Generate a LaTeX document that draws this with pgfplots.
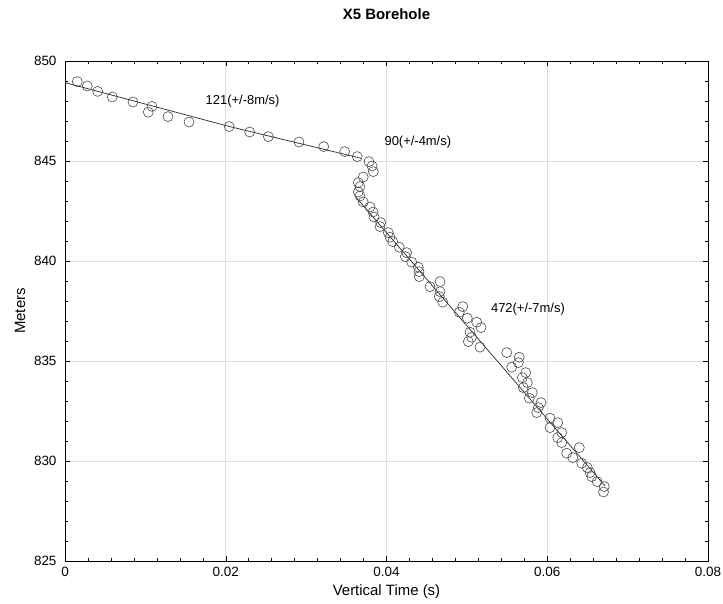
\documentclass[border=0pt]{standalone}
\usepackage{fontspec}
\setmainfont{Liberation Sans}
\usepackage{pgfplots}
\pgfplotsset{compat=1.18}

\definecolor{markgray}{RGB}{75,75,75}
\definecolor{linegray}{RGB}{50,50,50}
\definecolor{gridgray}{RGB}{222,222,222}

% picks: vertical travel time (s) against depth (m)
\pgfplotstableread{
t        z
0.00153  848.97
0.00277  848.75
0.00406  848.48
0.00588  848.20
0.00846  847.95
0.01082  847.73
0.01036  847.44
0.01281  847.22
0.01543  846.95
0.02043  846.72
0.02298  846.45
0.02530  846.22
0.02911  845.95
0.03219  845.72
0.03480  845.47
0.03636  845.22
0.03782  844.97
0.03820  844.75
0.03836  844.47
0.03711  844.20
0.03649  843.92
0.03670  843.72
0.03649  843.45
0.03670  843.25
0.03711  842.95
0.03795  842.70
0.03832  842.45
0.03845  842.20
0.03928  841.92
0.03919  841.72
0.04022  841.42
0.04044  841.19
0.04077  840.97
0.04159  840.69
0.04251  840.42
0.04234  840.22
0.04314  839.94
0.04396  839.69
0.04404  839.47
0.04408  839.22
0.04541  838.72
0.04666  838.97
0.04666  838.47
0.04657  838.22
0.04699  837.94
0.04948  837.72
0.04906  837.44
0.05005  837.14
0.05122  836.94
0.05176  836.67
0.05039  836.44
0.05060  836.19
0.05018  835.97
0.05163  835.69
0.05496  835.42
0.05652  835.19
0.05640  834.92
0.05558  834.69
0.05732  834.42
0.05690  834.17
0.05752  833.92
0.05702  833.67
0.05814  833.42
0.05777  833.14
0.05922  832.92
0.05889  832.67
0.05869  832.42
0.06034  832.14
0.06130  831.92
0.06034  831.67
0.06180  831.42
0.06130  831.17
0.06180  830.92
0.06399  830.67
0.06242  830.39
0.06317  830.17
0.06429  829.89
0.06498  829.67
0.06532  829.42
0.06553  829.22
0.06620  828.97
0.06710  828.72
0.06700  828.45
}\picks

\begin{document}
\begin{tikzpicture}
\useasboundingbox (-65bp,-43bp) rectangle (658bp,561bp);
\begin{axis}[
  scale only axis, width=643bp, height=500bp,
  xmin=0, xmax=0.08, ymin=825, ymax=850,
  scaled x ticks=false,
  xtick={0,0.02,0.04,0.06,0.08},
  xticklabels={0,0.02,0.04,0.06,0.08},
  ytick={825,830,835,840,845,850},
  minor x tick num=6, minor y tick num=4,
  grid=major, major grid style={gridgray, line width=0.7bp},
  minor grid style={draw=none},
  tick align=inside,
  major tick length=5bp, minor tick length=3bp,
  tick style={black, line width=0.5bp},
  axis line style={black, line width=0.8bp},
  /pgf/number format/assume math mode=true,
  ticklabel style={font=\fontsize{13.5}{15}\selectfont},
  xticklabel style={yshift=-3bp},
  yticklabel style={xshift=-5bp},
  xlabel={Vertical Time (s)}, ylabel={Meters},
  xlabel style={at={(axis description cs:0.5,-0.062)}, anchor=center, font=\fontsize{15}{17}\selectfont},
  ylabel style={at={(axis description cs:-0.07,0.5)}, anchor=center, font=\fontsize{15}{17}\selectfont},
  title={X5 Borehole},
  title style={at={(axis description cs:0.5,1.082)}, anchor=center, font=\bfseries\fontsize{15}{17}\selectfont},
  clip=false,
]
\addplot[only marks, mark=o, mark size=5bp, mark options={markgray, line width=0.6bp}] table[x=t, y=z] {\picks};

% interval velocity fits
\addplot[linegray, line width=0.75bp] coordinates {(0,848.92) (0.0205,846.72)};
\addplot[linegray, line width=0.75bp] coordinates {(0.0205,846.72) (0.0369,845.13)};
\addplot[linegray, line width=0.75bp] coordinates {(0.0362,843.19) (0.0672,828.75)};

\node[font=\fontsize{13}{15}\selectfont] at (axis cs:0.0221,847.97) {121(+/-8m/s)};
\node[font=\fontsize{13}{15}\selectfont] at (axis cs:0.0439,845.93) {90(+/-4m/s)};
\node[font=\fontsize{13}{15}\selectfont] at (axis cs:0.0576,837.58) {472(+/-7m/s)};
\end{axis}
\end{tikzpicture}
\end{document}
